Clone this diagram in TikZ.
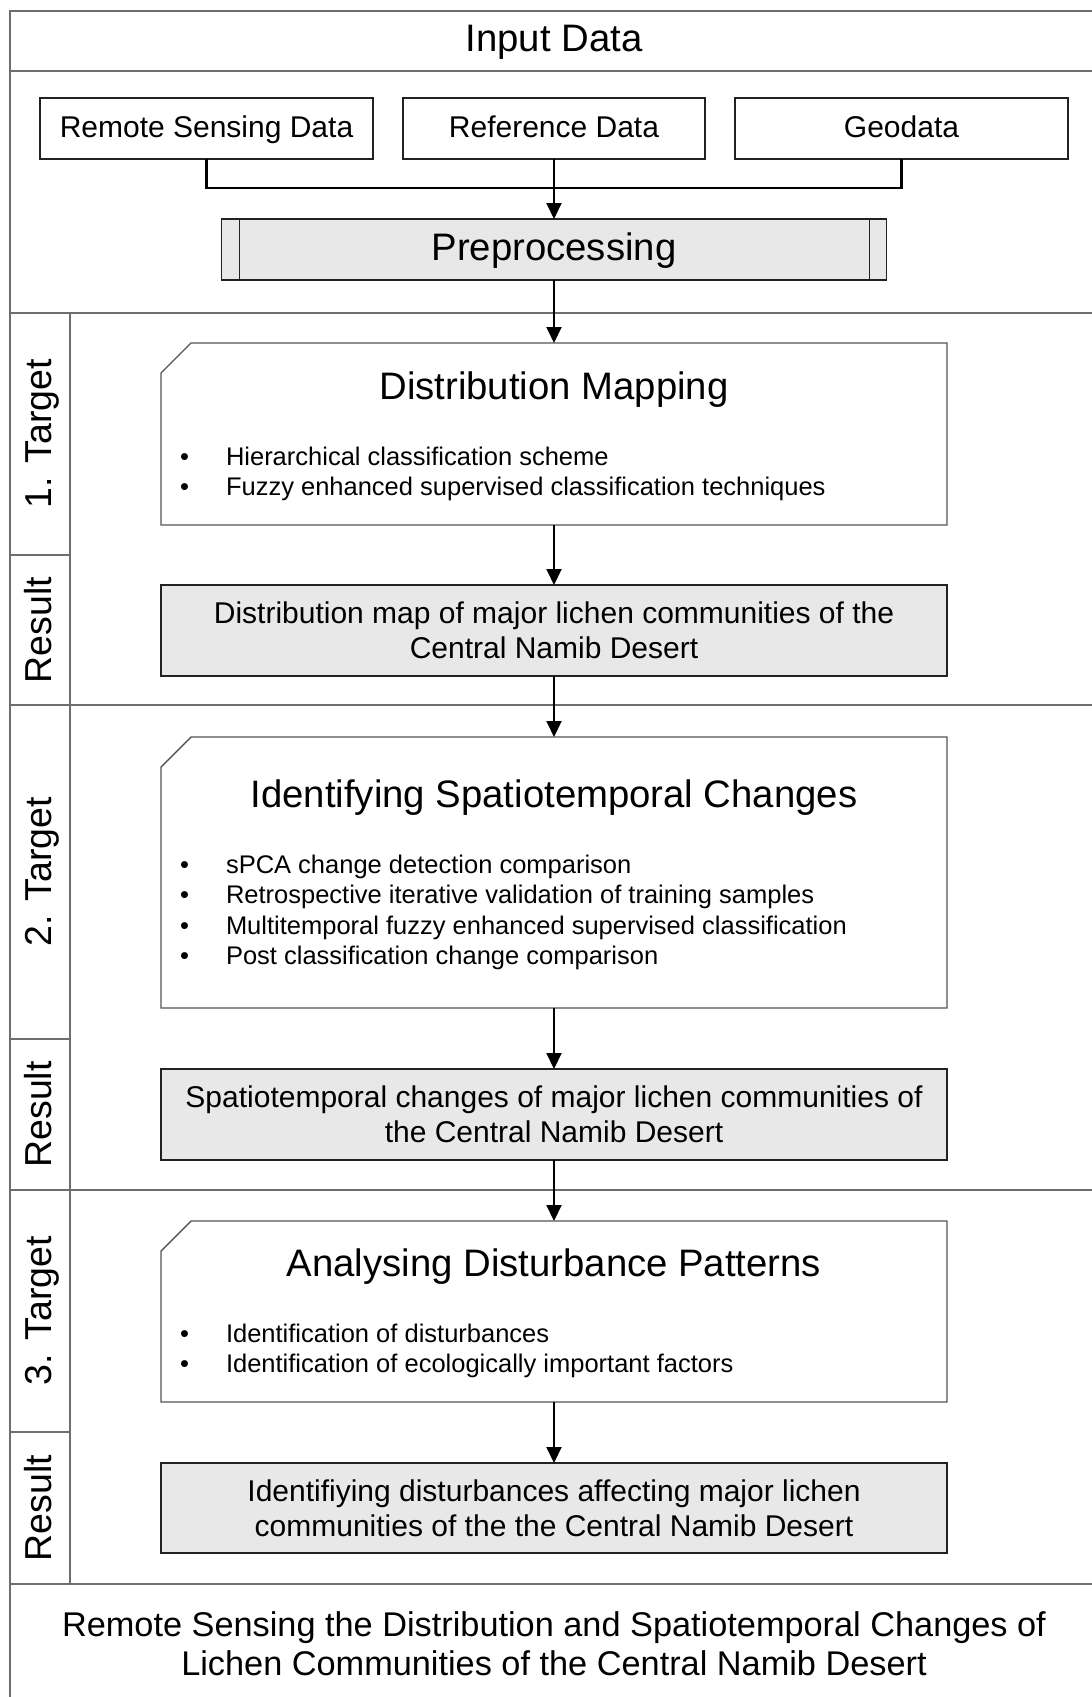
\documentclass[tikz,border=0pt]{standalone}
\usepackage{fontspec}
\setmainfont{Liberation Sans}
\usetikzlibrary{arrows.meta}
\definecolor{boxfill}{HTML}{E8E8E8}
\definecolor{framecol}{HTML}{6E6E6E}
\definecolor{targetcol}{HTML}{555555}
\definecolor{linecol}{HTML}{222222}

\begin{document}
\begin{tikzpicture}[x=1pt,y=-1pt,
  every node/.style={inner sep=0pt, outer sep=0pt, text=black},
  frame/.style={draw=framecol, line width=2pt},
  boxline/.style={draw=linecol, line width=1.4pt},
  srcbox/.style={boxline, minimum height=61pt, text height=22pt, text depth=5pt, font=\fontsize{30}{36}\selectfont},
  procbox/.style={boxline, fill=boxfill, minimum width=665pt, minimum height=61pt, text height=28pt, text depth=7pt, font=\fontsize{38.3}{46}\selectfont},
  targetbox/.style={minimum width=786pt},
  targetline/.style={draw=targetcol, line width=1.4pt, fill=white},
  resultbox/.style={boxline, fill=boxfill, minimum width=786pt, align=center, font=\fontsize{30}{34.6}\selectfont},
  title/.style={font=\fontsize{38.3}{46}\selectfont},
  item/.style={anchor=base west, font=\fontsize{25.5}{30}\selectfont},
  rowlabel/.style={rotate=90, anchor=base, font=\fontsize{37.5}{45}\selectfont},
  flow/.style={draw=black, line width=2pt, -{Triangle[length=16pt,width=15pt]}},
  bracket/.style={draw=black, line width=2.6pt},
]
\path[use as bounding box] (0,0) rectangle (1092,1697);
\clip (0,0) rectangle (1092,1697);

% outer frame and section rules
\draw[frame] (10,11) rectangle (1110,1715);
\draw[frame] (10,71) -- (1110,71);
\draw[frame] (10,313) -- (1110,313);
\draw[frame] (10,705) -- (1110,705);
\draw[frame] (10,1190) -- (1110,1190);
\draw[frame] (10,1584) -- (1110,1584);
% label column
\draw[frame] (70,313) -- (70,1584);
\draw[frame] (10,555) -- (70,555);
\draw[frame] (10,1039) -- (70,1039);
\draw[frame] (10,1432) -- (70,1432);

% row labels
\node[rowlabel] (lt1) at (51,434) {1. Target};
\node[rowlabel] (lr1) at (51,630) {Result};
\node[rowlabel] (lt2) at (51,872) {2. Target};
\node[rowlabel] (lr2) at (51,1114.5) {Result};
\node[rowlabel] (lt3) at (51,1311) {3. Target};
\node[rowlabel] (lr3) at (51,1508) {Result};

% input section
\node[title] (inhead) at (554,42) {Input Data};
\node[srcbox, minimum width=333pt] (rs) at (206.5,128.5) {Remote Sensing Data};
\node[srcbox, minimum width=302pt] (ref) at (554,128.5) {Reference Data};
\node[srcbox, minimum width=333pt] (geo) at (901.5,128.5) {Geodata};
\node[procbox] (pre) at (554,249.5) {Preprocessing};
\draw[boxline] ([xshift=18pt]pre.north west) -- ([xshift=18pt]pre.south west);
\draw[boxline] ([xshift=-17pt]pre.north east) -- ([xshift=-17pt]pre.south east);

\coordinate (join) at (554,188);
\draw[bracket] (rs.south) |- (join) -| (geo.south);
\draw[flow] (ref.south) -- (pre.north);

% target boxes with a cut corner
\node[targetbox, minimum height=182pt] (t1) at (554,434) {};
\node[targetbox, minimum height=271pt] (t2) at (554,872.5) {};
\node[targetbox, minimum height=181pt] (t3) at (554,1311.5) {};
\foreach \b in {t1,t2,t3}{
  \draw[targetline] (\b.south west) -- (\b.south east) -- (\b.north east)
    -- ([xshift=30pt]\b.north west) -- ([yshift=-30pt]\b.north west) -- cycle;
}

% target 1
\node[title] (t1title) at (554,390) {Distribution Mapping};
\node[item] (t1b1) at (180,465) {\textbullet};
\node[item] (t1i1) at (226,465) {Hierarchical classification scheme};
\node[item] (t1b2) at (180,495.5) {\textbullet};
\node[item] (t1i2) at (226,495.5) {Fuzzy enhanced supervised classification techniques};

% target 2
\node[title] (t2title) at (554,798) {Identifying Spatiotemporal Changes};
\node[item] (t2b1) at (180,873) {\textbullet};
\node[item] (t2i1) at (226,873) {sPCA change detection comparison};
\node[item] (t2b2) at (180,903.5) {\textbullet};
\node[item] (t2i2) at (226,903.5) {Retrospective iterative validation of training samples};
\node[item] (t2b3) at (180,934) {\textbullet};
\node[item] (t2i3) at (226,934) {Multitemporal fuzzy enhanced supervised classification};
\node[item] (t2b4) at (180,964.5) {\textbullet};
\node[item] (t2i4) at (226,964.5) {Post classification change comparison};

% target 3
\node[title] (t3title) at (554,1267) {Analysing Disturbance Patterns};
\node[item] (t3b1) at (180,1342) {\textbullet};
\node[item] (t3i1) at (226,1342) {Identification of disturbances};
\node[item] (t3b2) at (180,1372.5) {\textbullet};
\node[item] (t3i2) at (226,1372.5) {Identification of ecologically important factors};

% results
\node[resultbox, minimum height=91pt] (r1) at (554,630.5)
  {Distribution map of major lichen communities of the\\Central Namib Desert};
\node[resultbox, minimum height=91pt] (r2) at (554,1114.5)
  {Spatiotemporal changes of major lichen communities of\\the Central Namib Desert};
\node[resultbox, minimum height=90pt] (r3) at (554,1508)
  {Identifiying disturbances affecting major lichen\\communities of the the Central Namib Desert};

% flow
\draw[flow] (pre) -- (t1);
\draw[flow] (t1) -- (r1);
\draw[flow] (r1) -- (t2);
\draw[flow] (t2) -- (r2);
\draw[flow] (r2) -- (t3);
\draw[flow] (t3) -- (r3);

% overall aim
\node[align=center, font=\fontsize{34.3}{39}\selectfont] (aim) at (554,1644)
  {Remote Sensing the Distribution and Spatiotemporal Changes of\\Lichen Communities of the Central Namib Desert};
\end{tikzpicture}
\end{document}
